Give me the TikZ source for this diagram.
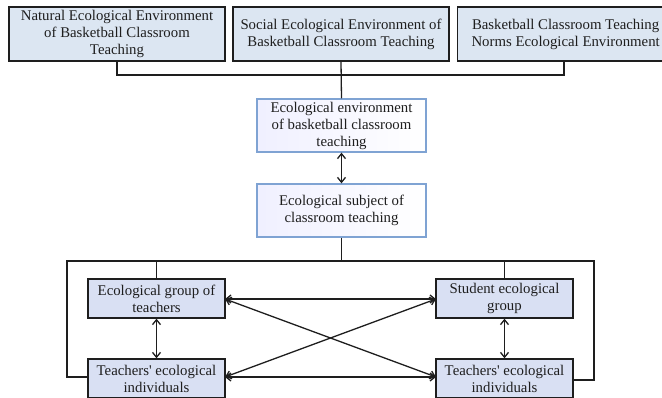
\documentclass[tikz,border=0pt]{standalone}
\usepackage{fontspec}
\setmainfont{Liberation Serif}
\usetikzlibrary{arrows.meta}
\definecolor{topfill}{HTML}{DCE6F2}
\definecolor{lowfill}{HTML}{D9E0F3}
\definecolor{midedge}{HTML}{7FA3D3}
\definecolor{inkgray}{HTML}{1E1E1E}
\tikzset{
  x=1pt, y=-1pt,
  every node/.style={font=\fontsize{14.8}{17}\selectfont, text=inkgray, align=center, inner sep=2pt},
  envbox/.style={draw=inkgray, line width=1.3pt, fill=topfill, minimum width=216pt, minimum height=54pt},
  midbox/.style={draw=midedge, line width=1.3pt, left color=blue!6, right color=white, minimum width=169pt, minimum height=53pt},
  grpbox/.style={draw=inkgray, line width=1.3pt, fill=lowfill, minimum width=137pt, minimum height=39pt},
  link/.style={draw=inkgray, line width=1.3pt},
  biarrow/.style={link, {Straight Barb[length=5pt,width=8pt]}-{Straight Barb[length=5pt,width=8pt]}}
}
\begin{document}
\begin{tikzpicture}
\useasboundingbox (0,0) rectangle (662,397);
\begin{scope}
\clip (0,0) rectangle (662,397);

% three sources of the classroom environment
\node[envbox] (nat) at (117,34) {Natural Ecological Environment\\of Basketball Classroom\\Teaching};
\node[envbox] (soc) at (341,34) {Social Ecological Environment of\\Basketball Classroom Teaching};
\node[envbox, anchor=west] (nrm) at (457,34) {Basketball Classroom Teaching\\Norms Ecological Environment};

% environment and subject
\node[midbox] (env) at (341.5,125.5) {Ecological environment\\of basketball classroom\\teaching};
\node[midbox] (sub) at (341.5,210.5) {Ecological subject of\\classroom teaching};

% groups and individuals
\node[grpbox] (tg) at (156.5,298.5) {Ecological group of\\teachers};
\node[grpbox] (ti) at (156.5,378.5) {Teachers\textquotesingle{} ecological\\individuals};
\node[grpbox] (sg) at (504.5,298.5) {Student ecological\\group};
\node[grpbox] (si) at (504.5,378.5) {Teachers\textquotesingle{} ecological\\individuals};

% bus joining the three sources
\coordinate (busL) at (117,75);
\coordinate (busR) at (564,75);
\draw[link] (nat.south) -- (busL) -- (busR) -- (busR |- nrm.south);
\draw[link] (soc.south) -- (env.north);

\draw[biarrow] (env.south) -- (sub.north);

% frame around the lower group
\coordinate (fTop) at (341.5,261);
\coordinate (fTL) at (67,261);
\coordinate (fTR) at (594,261);
\coordinate (fBL) at (67,377);
\coordinate (fBR) at (594,380);
\draw[link] (sub.south) -- (fTop);
\draw[link] (ti.west |- fBL) -- (fBL) -- (fTL) -- (fTR) -- (fBR) -- (si.east |- fBR);
\draw[link] (tg.north) -- (tg.north |- fTL);
\draw[link] (sg.north) -- (sg.north |- fTL);

% relations between the four boxes
\coordinate (tgE) at (225,299);
\coordinate (tiE) at (225,377);
\coordinate (sgW) at (436,299);
\coordinate (siW) at (436,377);
\draw[biarrow] (tgE) -- (sgW);
\draw[biarrow] (tiE) -- (siW);
\draw[biarrow] (tgE) -- (siW);
\draw[biarrow] (tiE) -- (sgW);
\draw[biarrow] (tg.south) -- (ti.north);
\draw[biarrow] (sg.south) -- (si.north);
\end{scope}
\end{tikzpicture}
\end{document}
